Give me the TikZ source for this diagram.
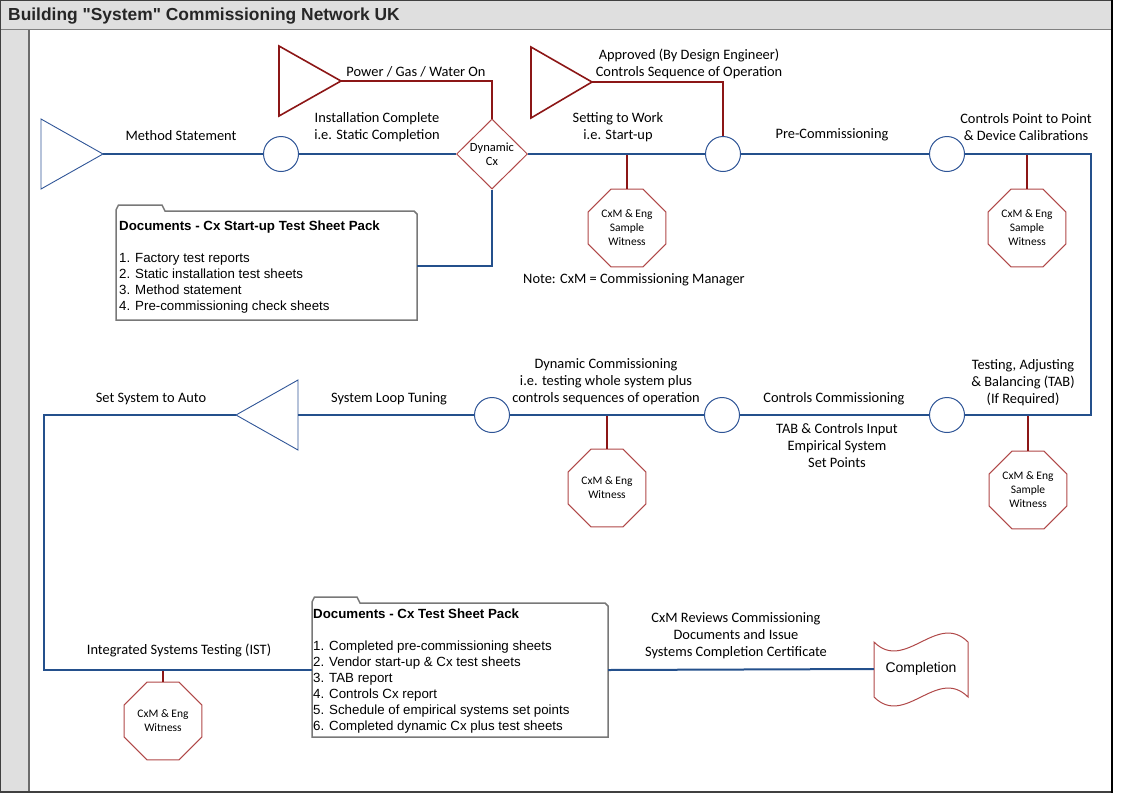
\documentclass[tikz,border=0pt]{standalone}
\usepackage{fontspec}
\setmainfont{Carlito}
\newfontfamily\arialf{Liberation Sans}
\usetikzlibrary{shapes.geometric}
\definecolor{bline}{RGB}{36,80,140}
\definecolor{bshape}{RGB}{47,85,151}
\definecolor{rline}{RGB}{140,22,22}
\definecolor{rshape}{RGB}{176,72,72}
\definecolor{frgray}{RGB}{223,223,223}
\definecolor{docgray}{RGB}{120,120,120}
\begin{document}
\begin{tikzpicture}[x=1pt,y=-1pt,
  bl/.style={draw=bline,line width=2pt},
  rd/.style={draw=rline,line width=2pt},
  btri/.style={draw=bshape,line width=0.9pt,line join=miter},
  rtri/.style={draw=rline,line width=1.6pt,line join=miter},
  circ/.style={circle,draw=bshape,line width=1pt,fill=white,minimum size=35pt,inner sep=0pt},
  octo/.style={regular polygon,regular polygon sides=8,draw=rshape,line width=1pt,fill=white,
     minimum size=84pt,inner sep=0pt,align=center,font=\fontsize{11.5}{14}\selectfont},
  lbl/.style={align=center,inner sep=0pt,font=\fontsize{14.4}{17}\selectfont},
  docbox/.style={draw=docgray,line width=1.5pt,fill=white,line join=miter},
  doctext/.style={align=left,inner sep=0pt,anchor=north west,font=\arialf\fontsize{13.3}{16}\selectfont}
]
\useasboundingbox (0,0) rectangle (1122,793);
% frame
\fill[frgray] (0,0) rectangle (1112,29);
\fill[frgray] (0,29) rectangle (29,792);
\draw[gray,line width=1pt] (0,29.5) -- (1112,29.5);
\draw[gray!85!black,line width=1.5pt] (29,30) -- (29,792);
\draw[black!75,line width=1.5pt] (0.5,792) -- (0.5,0.5) -- (1112,0.5);
\draw[black!75,line width=1.5pt] (0,792) -- (1112,792);
\draw[black,line width=1.5pt] (1112,0) -- (1112,793);
\node[anchor=west,inner sep=0pt,font=\arialf\bfseries\fontsize{17.4}{20}\selectfont,text=black!85] (title) at (8,16) {Building "System" Commissioning Network UK};

% triangles
\draw[btri] (41,119) -- (103,154) -- (41,189) -- cycle;
\coordinate (tA) at (103,154);
\draw[rtri] (279,46) -- (341,81) -- (279,116) -- cycle;
\coordinate (tB) at (341,81);
\draw[rtri] (531,47) -- (592,82) -- (531,118) -- cycle;
\coordinate (tD) at (592,82);
\draw[btri] (298,380) -- (236,415) -- (298,450) -- cycle;
\coordinate (tCr) at (298,415);
\coordinate (tCl) at (236,415);
\coordinate (r1) at (1091,154);
\coordinate (l1) at (44,415);

% nodes
\node[circ] (c1) at (281,154) {};
\node[diamond,draw=rshape,line width=1pt,fill=white,minimum width=71pt,minimum height=70pt,inner sep=0pt,align=center,font=\fontsize{12.5}{14.5}\selectfont] (dyn) at (492,154) {Dynamic\\Cx};
\node[circ] (c2) at (723,154) {};
\node[circ] (c3) at (947,154) {};
\node[circ] (c4) at (947,415) {};
\node[circ] (c5) at (722,415) {};
\node[circ] (c6) at (492,415) {};
\node[octo] (w1) at (627,228) {CxM \& Eng\\Sample\\Witness};
\node[octo] (w2) at (1027,228) {CxM \& Eng\\Sample\\Witness};
\node[octo] (w3) at (1028,490) {CxM \& Eng\\Sample\\Witness};
\node[octo] (w4) at (607,488) {CxM \& Eng\\Witness};
\node[octo] (w5) at (163,721) {CxM \& Eng\\Witness};

% document boxes
\node[minimum width=301pt,minimum height=109pt,inner sep=0pt] (docA) at (266.5,265.5) {};
\draw[docbox] (116,320) -- (116,210) -- (118.5,205) -- (162,205) -- (165,211) -- (414,211) -- (417,214) -- (417,320) -- cycle;
\node[doctext] (docAt) at (119,221) {\textbf{Documents - Cx Start-up Test Sheet Pack}\\[16pt]1. Factory test reports\\2. Static installation test sheets\\3. Method statement\\4. Pre-commissioning check sheets};
\node[minimum width=296pt,minimum height=134pt,inner sep=0pt] (docB) at (460,670) {};
\draw[docbox] (312,737) -- (312,602) -- (314.5,597) -- (357,597) -- (360,603) -- (605,603) -- (608,606) -- (608,737) -- cycle;
\node[doctext] (docBt) at (313,609) {\textbf{Documents - Cx Test Sheet Pack}\\[16pt]1. Completed pre-commissioning sheets\\2. Vendor start-up \& Cx test sheets\\3. TAB report\\4. Controls Cx report\\5. Schedule of empirical systems set points\\6. Completed dynamic Cx plus test sheets};

% completion
\node[minimum width=94pt,minimum height=55pt,inner sep=0pt] (comp) at (921,669) {};
\draw[draw=rshape,line width=1pt,fill=white] (874,642) .. controls (905,673) and (937,611) .. (968,642) -- (968,697) .. controls (937,666) and (905,728) .. (874,697) -- cycle;
\node[inner sep=0pt,font=\arialf\fontsize{14}{16}\selectfont] (compt) at (comp) {Completion};

% red connectors
\draw[rd] (tB) -| (dyn.north);
\draw[rd] (tD) -| (c2.north);
\draw[rd] (w1.north) -- (w1.north |- c2.west);
\draw[rd] (w2.north) -- (w2.north |- c3.east);
\draw[rd] (w3.north) -- (w3.north |- c4.west);
\draw[rd] (w4.north) -- (w4.north |- c5.west);
\draw[rd] (w5.north) -- (w5.north |- docB.west);

% blue flow
\draw[bl] (tA) -- (c1.west);
\draw[bl] (c1.east) -- (dyn.west);
\draw[bl] (dyn.east) -- (c2.west);
\draw[bl] (c2.east) -- (c3.west);
\draw[bl,line join=miter] (c3.east) -- (r1) |- (c4.east);
\draw[bl] (c4.west) -- (c5.east);
\draw[bl] (c5.west) -- (c6.east);
\draw[bl] (c6.west) -- (tCr);
\draw[bl,line join=miter] (tCl) -- (l1) |- (docB.west);
\draw[bl] (docB.east) -- (comp.west);
\draw[bl,line join=miter] (dyn.south) |- (docA.east);

% labels
\node[lbl] (m1) at (181,136) {Method Statement};
\node[lbl] (m2) at (377,127) {Installation Complete\\i.e. Static Completion};
\node[lbl] (m3) at (416,72) {Power / Gas / Water On};
\node[lbl] (m4) at (618,127) {Setting to Work\\i.e. Start-up};
\node[lbl] (m5) at (689,64) {Approved (By Design Engineer)\\Controls Sequence of Operation};
\node[lbl] (m6) at (832,134.5) {Pre-Commissioning};
\node[lbl] (m7) at (1026,127) {Controls Point to Point\\\& Device Calibrations};
\node[lbl] (m8) at (634,280) {Note: CxM = Commissioning Manager};
\node[lbl] (m9) at (1023,383) {Testing, Adjusting\\\& Balancing (TAB)\\(If Required)};
\node[lbl] (m10) at (834,398.5) {Controls Commissioning};
\node[lbl] (m11) at (837,446) {TAB \& Controls Input\\Empirical System\\Set Points};
\node[lbl] (m12) at (606,382) {Dynamic Commissioning\\i.e. testing whole system plus\\controls sequences of operation};
\node[lbl] (m13) at (389,398.5) {System Loop Tuning};
\node[lbl] (m14) at (151,398.5) {Set System to Auto};
\node[lbl] (m15) at (179,650) {Integrated Systems Testing (IST)};
\node[lbl] (m16) at (736,636) {CxM Reviews Commissioning\\Documents and Issue\\Systems Completion Certificate};
\end{tikzpicture}
\end{document}
